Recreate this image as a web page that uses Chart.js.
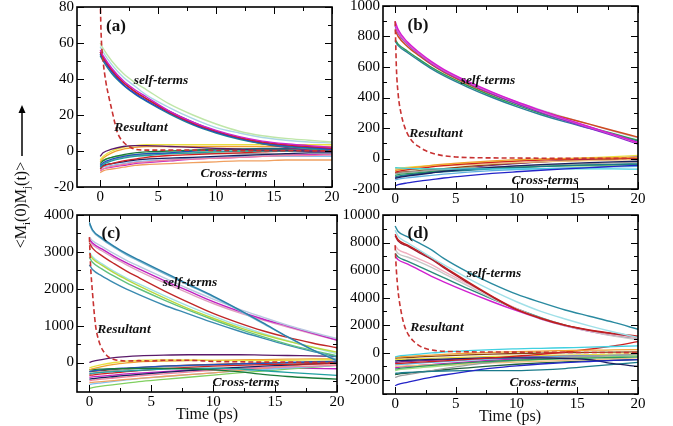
<!DOCTYPE html>
<html>
<head>
<meta charset="utf-8">
<script src="https://cdn.jsdelivr.net/npm/chart.js@4.4.1/dist/chart.umd.min.js"></script>
<style>
body{margin:0;background:#fff;width:673px;height:426px;position:relative;overflow:hidden;font-family:"Liberation Serif",serif}
canvas{position:absolute}
.t{position:absolute;white-space:nowrap;color:#111;transform:translate(-50%,-50%)}
.lab{font-weight:bold;font-style:italic;font-size:13.5px}
.pan{font-weight:bold;font-size:17px}
.ttl{font-size:16px}
</style>
</head>
<body>
<canvas id="pa"></canvas>
<canvas id="pb"></canvas>
<canvas id="pc"></canvas>
<canvas id="pd"></canvas>

<div class="t pan" style="left:116px;top:26px">(a)</div>
<div class="t lab" style="left:161px;top:80px">self-terms</div>
<div class="t lab" style="left:141px;top:127px">Resultant</div>
<div class="t lab" style="left:234px;top:173px">Cross-terms</div>

<div class="t pan" style="left:418px;top:25px">(b)</div>
<div class="t lab" style="left:488px;top:80px">self-terms</div>
<div class="t lab" style="left:436px;top:133px">Resultant</div>
<div class="t lab" style="left:545px;top:180px">Cross-terms</div>

<div class="t pan" style="left:111px;top:233px">(c)</div>
<div class="t lab" style="left:190px;top:282px">self-terms</div>
<div class="t lab" style="left:124px;top:329px">Resultant</div>
<div class="t lab" style="left:246px;top:382px">Cross-terms</div>

<div class="t pan" style="left:418px;top:233px">(d)</div>
<div class="t lab" style="left:494px;top:273px">self-terms</div>
<div class="t lab" style="left:437px;top:327px">Resultant</div>
<div class="t lab" style="left:543px;top:382px">Cross-terms</div>

<div class="t ttl" style="left:207px;top:414px">Time (ps)</div>
<div class="t ttl" style="left:510px;top:416px">Time (ps)</div>

<div class="t ttl" style="left:22px;top:205px;transform:translate(-50%,-50%) rotate(-90deg)">&lt;M<sub style="font-size:11px">i</sub>(0)M<sub style="font-size:11px">j</sub>(t)&gt;</div>
<svg style="position:absolute;left:16px;top:104px" width="12" height="54">
  <line x1="6" y1="6" x2="6" y2="52" stroke="#000" stroke-width="1.5"/>
  <polygon points="6,1 2.5,9 9.5,9" fill="#000"/>
</svg>

<script>
// time axes (ps)
const timeGrid = [0, 0.25, 1, 2, 3, 4, 6, 8, 10, 12, 14, 16, 18, 20];
const resultTime = [0, 0.05, 0.1, 0.25, 0.5, 0.75, 1, 1.25, 1.5, 2, 2.5, 3, 4, 5, 6, 8, 10, 12, 14, 16, 18, 20];
const xTicks = [0, 5, 10, 15, 20];

// (a)
const yTicksA = [-20, 0, 20, 40, 60, 80];
const resultA = [88, 72, 62, 50, 38, 30, 23, 16, 10, 5, 2.5, 1, 0.5, 0.5, 0.5, 0.5, 0.3, 0.2, 0.2, 0.1, 0.1, 0];
const selfA = [
  [60, 57, 50, 43, 38, 34, 26, 20, 15, 11, 8.5, 7, 6, 5],
  [58, 55, 48, 41, 36, 31, 24, 18, 13, 10, 7.5, 6, 5, 4.5],
  [56, 53, 46, 39, 34, 30, 22, 16, 11.5, 8, 5.5, 4, 3, 2],
  [55, 52, 45, 38, 33, 29, 21.5, 15.5, 11, 7.5, 5, 3.5, 2.5, 1.5],
  [54, 51, 44, 37, 32, 28, 21, 15, 10.5, 7, 4.5, 3, 2, 1],
  [53, 50, 43, 36.5, 31.5, 27.5, 20.5, 14.5, 10, 6.5, 4, 2.5, 1.5, 0.5],
  [55, 52, 45, 38, 33, 29, 22, 16, 11, 7, 4, 2, 0.5, -0.5]
];
const crossA = [
  [-3, -1, 1, 2.5, 3, 3, 2.5, 2, 1.5, 1, 0.5, 0.5, 0, 0],
  [-5, -3, 0, 2, 3, 3.5, 3.5, 3.5, 3.5, 3.5, 3.5, 3.5, 3.5, 3.5],
  [-6, -4, -1, 1, 2, 2.5, 2.5, 2.5, 2.5, 2.5, 2.5, 2.5, 2.5, 2.5],
  [-7, -5.5, -3.5, -2, -1, -0.5, 0, 0.5, 1, 1, 1, 1, 1, 1],
  [-8, -6.5, -4.5, -3, -2, -1.5, -1, 0, 0.5, 1, 1.5, 1.5, 2, 2],
  [-9, -7.5, -5.5, -4, -3, -2.5, -1.5, -1, -0.5, 0, 0, 0, 0, 0],
  [-10, -8.5, -7, -5.5, -4.5, -3.5, -2.5, -2, -1.5, -1, -0.5, 0, 0, 0],
  [-9, -8, -7, -6, -5, -4.5, -4, -3.5, -3, -2.5, -2, -1.5, -1, -1],
  [-11, -10, -8.5, -7.5, -6.5, -6, -5, -4.5, -4, -3.5, -3, -2.5, -2.5, -2],
  [-12, -11, -10, -9, -8, -7.5, -7, -6.5, -6, -5.5, -5.5, -5, -5, -5],
  [-10, -9, -8, -7, -6, -5.5, -5, -4, -3.5, -3, -3, -3, -3, -3],
  [-6, -5, -3.5, -2.5, -2, -1.5, -1, -0.5, -0.5, 0, 0, 0, 0, 0.5],
  [-11, -10, -9, -8, -7, -6.5, -5.5, -4.5, -4, -3.5, -3, -2.5, -2, -2],
  [-8, -7, -5, -3.5, -2.5, -2, -1.5, -1.5, -1.5, -1.5, -1.5, -2, -2, -2]
];

// (b)
const yTicksB = [-200, 0, 200, 400, 600, 800, 1000];
const resultB = [900, 750, 600, 420, 290, 215, 165, 130, 105, 75, 52, 36, 18, 10, 6, 4, 3, 2, 2, 1, 1, 0];
const selfB = [
  [900, 845, 765, 695, 635, 585, 505, 435, 372, 315, 260, 208, 158, 105],
  [880, 828, 755, 687, 627, 578, 500, 430, 368, 310, 256, 205, 155, 100],
  [870, 822, 750, 682, 622, 573, 495, 424, 360, 302, 248, 198, 148, 95],
  [840, 800, 735, 672, 615, 567, 488, 420, 362, 312, 267, 225, 182, 140],
  [780, 750, 705, 650, 598, 553, 477, 410, 350, 297, 250, 206, 162, 120],
  [770, 740, 695, 640, 588, 543, 467, 400, 340, 287, 240, 198, 156, 115],
  [860, 815, 745, 680, 625, 578, 500, 432, 372, 318, 270, 224, 178, 135]
];
const crossB = [
  [-180, -172, -160, -148, -138, -128, -112, -98, -87, -77, -68, -60, -52, -45],
  [-60, -62, -65, -67, -68, -68, -68, -68, -68, -68, -68, -68, -68, -70],
  [-80, -75, -65, -55, -45, -37, -25, -15, -8, -3, 0, 3, 5, 8],
  [-90, -85, -75, -65, -55, -47, -35, -25, -17, -10, -5, -2, 0, 2],
  [-130, -125, -115, -105, -95, -85, -70, -58, -48, -40, -33, -27, -22, -18],
  [-120, -115, -108, -100, -93, -87, -77, -68, -60, -53, -47, -42, -38, -35],
  [-110, -106, -100, -93, -87, -82, -73, -65, -58, -52, -47, -43, -40, -38],
  [-100, -96, -90, -84, -78, -73, -64, -56, -49, -43, -38, -33, -29, -25],
  [-70, -68, -63, -58, -53, -48, -40, -33, -27, -22, -18, -14, -10, -7],
  [-95, -92, -87, -80, -73, -66, -52, -40, -30, -22, -15, -10, -6, -3],
  [-75, -74, -72, -70, -68, -66, -62, -58, -55, -52, -50, -48, -47, -45],
  [-140, -135, -127, -118, -110, -103, -90, -80, -72, -66, -61, -57, -54, -52],
  [-125, -120, -110, -98, -87, -77, -60, -45, -33, -22, -13, -5, 2, 10],
  [-65, -63, -58, -52, -46, -40, -30, -22, -15, -8, -2, 5, 12, 20]
];

// (c)
const yTicksC = [0, 1000, 2000, 3000, 4000];
const resultC = [3400, 3000, 2600, 1900, 1000, 600, 380, 250, 160, 80, 50, 40, 50, 40, 60, 60, 30, 20, 10, 10, 5, 0];
const selfC = [
  [3800, 3600, 3380, 3150, 2950, 2780, 2450, 2120, 1800, 1450, 1080, 700, 350, 50],
  [3750, 3570, 3350, 3120, 2920, 2750, 2420, 2100, 1780, 1430, 1060, 690, 340, 80],
  [3400, 3300, 3150, 2950, 2770, 2610, 2300, 2000, 1720, 1460, 1230, 1010, 820, 650],
  [3350, 3240, 3080, 2880, 2700, 2540, 2230, 1940, 1650, 1400, 1180, 990, 800, 610],
  [3300, 3190, 3030, 2830, 2650, 2480, 2170, 1880, 1600, 1360, 1150, 960, 780, 600],
  [3250, 3100, 2900, 2680, 2480, 2300, 1950, 1630, 1330, 1080, 860, 680, 530, 400],
  [2950, 2820, 2640, 2430, 2250, 2080, 1760, 1460, 1200, 960, 760, 580, 420, 280],
  [2850, 2720, 2540, 2340, 2160, 2000, 1700, 1420, 1160, 920, 700, 500, 330, 180],
  [2650, 2520, 2350, 2160, 1990, 1840, 1560, 1320, 1080, 860, 660, 470, 300, 150],
  [3000, 2870, 2680, 2470, 2290, 2130, 1820, 1530, 1260, 1010, 790, 590, 410, 240]
];
const crossC = [
  [0, 30, 80, 130, 160, 180, 200, 210, 210, 210, 200, 190, 180, 170],
  [-150, -120, -60, 0, 40, 60, 70, 70, 60, 50, 50, 60, 70, 80],
  [-200, -170, -110, -50, -10, 20, 40, 50, 60, 70, 80, 90, 100, 100],
  [-200, -190, -180, -170, -165, -160, -160, -170, -200, -250, -320, -380, -420, -450],
  [-250, -230, -200, -170, -150, -130, -100, -80, -60, -40, -20, 0, 20, 40],
  [-300, -290, -270, -250, -230, -210, -180, -160, -150, -170, -220, -270, -310, -350],
  [-350, -340, -310, -280, -250, -220, -170, -130, -100, -80, -60, -50, -40, -30],
  [-450, -440, -410, -380, -350, -320, -270, -220, -170, -130, -100, -70, -40, -10],
  [-500, -480, -450, -420, -390, -360, -310, -260, -210, -170, -140, -120, -100, -80],
  [-550, -540, -520, -490, -460, -430, -380, -330, -280, -220, -160, -100, -50, 0],
  [-600, -580, -550, -510, -470, -440, -380, -330, -280, -230, -190, -150, -110, -80],
  [-700, -680, -640, -600, -560, -520, -460, -400, -340, -280, -230, -180, -130, -80],
  [-400, -390, -370, -340, -310, -290, -250, -210, -180, -160, -150, -150, -160, -170],
  [-320, -300, -260, -220, -190, -160, -120, -90, -70, -50, -40, -30, -20, -10],
  [-250, -240, -220, -190, -160, -140, -100, -70, -50, -30, -20, -10, 0, 10]
];

// (d)
const yTicksD = [-2000, 0, 2000, 4000, 6000, 8000, 10000];
const resultD = [7800, 6800, 6000, 4400, 2950, 2000, 1450, 1100, 850, 500, 300, 200, 100, 80, 60, 50, 40, 30, 20, 10, 10, 0];
const selfD = [
  [9200, 8800, 8430, 7950, 7470, 6850, 5850, 5000, 4250, 3650, 3100, 2650, 2200, 1700],
  [8900, 8450, 8000, 7450, 6900, 6400, 5400, 4500, 3700, 3000, 2450, 1950, 1500, 1100],
  [8600, 8200, 7830, 7350, 6870, 6250, 5150, 4100, 3150, 2500, 2000, 1650, 1400, 1200],
  [8500, 8100, 7750, 7250, 6780, 6170, 5080, 4050, 3120, 2480, 1980, 1620, 1370, 1150],
  [7800, 7500, 7200, 6800, 6400, 5900, 5000, 4050, 3200, 2500, 2000, 1600, 1300, 1050],
  [7500, 7200, 6950, 6600, 6200, 5750, 4850, 3950, 3150, 2450, 1950, 1550, 1200, 950],
  [7200, 6950, 6650, 6250, 5850, 5450, 4650, 3900, 3200, 2550, 2000, 1600, 1280, 1000],
  [7000, 6750, 6450, 6000, 5550, 5150, 4400, 3700, 3050, 2450, 1950, 1550, 1250, 1050]
];
const crossD = [
  [-2400, -2300, -2150, -1950, -1780, -1620, -1350, -1120, -950, -820, -720, -640, -560, -500],
  [-300, -250, -180, -100, -20, 50, 150, 230, 280, 320, 360, 400, 450, 500],
  [-350, -320, -270, -220, -170, -120, -40, 30, 80, 120, 150, 180, 200, 220],
  [-800, -780, -740, -690, -640, -590, -480, -370, -250, -120, 50, 250, 500, 800],
  [-600, -580, -550, -520, -490, -460, -410, -380, -370, -380, -420, -500, -800, -1000],
  [-1500, -1480, -1440, -1400, -1360, -1330, -1300, -1300, -1300, -1250, -1150, -1000, -850, -700],
  [-1200, -1150, -1080, -1000, -920, -850, -720, -620, -540, -480, -430, -390, -350, -300],
  [-1800, -1720, -1600, -1450, -1300, -1150, -900, -700, -550, -430, -330, -250, -180, -120],
  [-1000, -980, -950, -920, -890, -860, -800, -740, -680, -620, -560, -500, -440, -380],
  [-400, -380, -350, -310, -270, -230, -160, -100, -60, -30, 0, 20, 40, 60],
  [-1300, -1250, -1180, -1100, -1020, -950, -820, -700, -600, -500, -420, -350, -280, -200],
  [-900, -870, -820, -760, -700, -640, -540, -450, -380, -320, -270, -230, -200, -170],
  [-700, -680, -640, -600, -560, -520, -440, -380, -320, -280, -250, -230, -210, -190],
  [-500, -490, -470, -440, -410, -380, -320, -270, -230, -200, -170, -140, -110, -80],
  [-1100, -1060, -1000, -930, -860, -790, -660, -550, -460, -390, -330, -280, -230, -180],
  [-1600, -1550, -1480, -1400, -1320, -1240, -1100, -960, -840, -740, -660, -600, -550, -500]
];

// colours
const selfColA = ['#bfe6a8', '#a9d6e6', '#cc22cc', '#cc2222', '#2a3fcc', '#1f8a8a', '#7a2a8a'];
const selfColB = ['#d41cd4', '#e060c8', '#8a2ad0', '#d04a20', '#2e9a5a', '#2a7f9a', '#c8c8d8'];
const selfColC = ['#2a7fa8', '#7ab8d0', '#b8c8e0', '#c020c0', '#e0a0c0', '#c02828', '#b8d840', '#60c080', '#3a8ab0', '#a0e0e0'];
const selfColD = ['#2a8aa0', '#a0e0e8', '#c02020', '#a01830', '#f0b0c0', '#c8c8c8', '#2a8a7a', '#d020d0'];
const crossCol = ['#5a1a6a', '#e8e040', '#f0a030', '#1a7a3a', '#2050c0', '#20a0a0', '#d02020', '#1a2060',
                  '#f080a0', '#f0a060', '#80c0f0', '#80d060', '#c020c0', '#a0a0a0', '#8b4513', '#40c0e0'];
const crossColBD = ['#2424c8', '#40d0e0', '#f0a030', '#d02020', '#1a2060', '#1a7a8a', '#2e9a5a', '#a0a0a0',
                    '#f0c080', '#8b4513', '#a0e080', '#60b0e0', '#7a2a9a', '#e8e040', '#c020c0', '#206040'];

const frame = {
  id: 'frame',
  afterDraw(chart, args, o) {
    const {ctx, chartArea: a, scales: {x, y}} = chart;
    ctx.save();
    ctx.strokeStyle = '#000';
    ctx.lineWidth = 1;
    ctx.beginPath();
    const tk = (scale, minor, major, horiz) => {
      for (let v = Math.ceil(scale.min / minor) * minor; v <= scale.max + 1e-9; v += minor) {
        const len = Math.abs(v / major - Math.round(v / major)) < 1e-6 ? 7 : 4;
        const p = Math.round(scale.getPixelForValue(v)) + 0.5;
        if (horiz) {
          ctx.moveTo(p, a.bottom); ctx.lineTo(p, a.bottom - len);
          ctx.moveTo(p, a.top); ctx.lineTo(p, a.top + len);
        } else {
          ctx.moveTo(a.left, p); ctx.lineTo(a.left + len, p);
          ctx.moveTo(a.right, p); ctx.lineTo(a.right - len, p);
        }
      }
    };
    tk(x, 2.5, 5, true);
    tk(y, o.yMinor, o.yStep, false);
    ctx.stroke();
    ctx.lineWidth = 1.6;
    ctx.strokeRect(a.left, a.top, a.right - a.left, a.bottom - a.top);
    ctx.restore();
  }
};

function makePanel(id, box, xMin, yMin, yMax, yTicks, self, cross, result, selfCol, crossColors) {
  const cv = document.getElementById(id);
  const padT = 15, padR = 16, yW = 60, xH = 30;
  cv.width = box.r - box.l + yW + padR;
  cv.height = box.b - box.t + padT + xH;
  cv.style.left = (box.l - yW) + 'px';
  cv.style.top = (box.t - padT) + 'px';

  const sets = [];
  sets.push({
    data: resultTime.map((t, i) => ({x: t, y: result[i]})),
    borderColor: '#c83232', borderWidth: 1.6, borderDash: [5, 3]
  });
  self.forEach((s, k) => sets.push({
    data: timeGrid.map((t, i) => ({x: t, y: s[i]})),
    borderColor: selfCol[k % selfCol.length], borderWidth: 1.4
  }));
  cross.forEach((s, k) => sets.push({
    data: timeGrid.map((t, i) => ({x: t, y: s[i]})),
    borderColor: crossColors[k % crossColors.length], borderWidth: 1.3
  }));

  const yStep = yTicks[1] - yTicks[0];
  const font = {family: '"Liberation Serif", serif', size: 15};
  new Chart(cv.getContext('2d'), {
    type: 'line',
    data: {datasets: sets},
    options: {
      responsive: false,
      animation: false,
      events: [],
      elements: {point: {radius: 0}, line: {cubicInterpolationMode: 'monotone', fill: false}},
      layout: {padding: {top: padT, right: padR, left: 0, bottom: 0}},
      plugins: {legend: {display: false}, tooltip: {enabled: false}, frame: {yStep: yStep, yMinor: yStep / 2}},
      scales: {
        x: {
          type: 'linear', min: xMin, max: 20,
          ticks: {font: font, color: '#000', padding: 1, maxRotation: 0, callback: v => String(v)},
          afterBuildTicks: s => { s.ticks = xTicks.map(v => ({value: v})); },
          afterFit: s => { s.height = xH; },
          grid: {display: false, drawTicks: false},
          border: {display: false}
        },
        y: {
          type: 'linear', min: yMin, max: yMax,
          ticks: {font: font, color: '#000', padding: 3, callback: v => String(v)},
          afterBuildTicks: s => { s.ticks = yTicks.map(v => ({value: v})); },
          afterFit: s => { s.width = yW; },
          grid: {display: false, drawTicks: false},
          border: {display: false}
        }
      }
    },
    plugins: [frame]
  });
}

makePanel('pa', {l: 77, t: 7, r: 332, b: 187}, -2, -20, 80, yTicksA, selfA, crossA, resultA, selfColA, crossCol);
makePanel('pb', {l: 383, t: 6, r: 638, b: 189}, -1, -200, 1000, yTicksB, selfB, crossB, resultB, selfColB, crossColBD);
makePanel('pc', {l: 77, t: 215, r: 337, b: 392}, -1, -800, 4000, yTicksC, selfC, crossC, resultC, selfColC, crossCol);
makePanel('pd', {l: 383, t: 215, r: 638, b: 394}, -1, -3000, 10000, yTicksD, selfD, crossD, resultD, selfColD, crossColBD);
</script>
</body>
</html>
